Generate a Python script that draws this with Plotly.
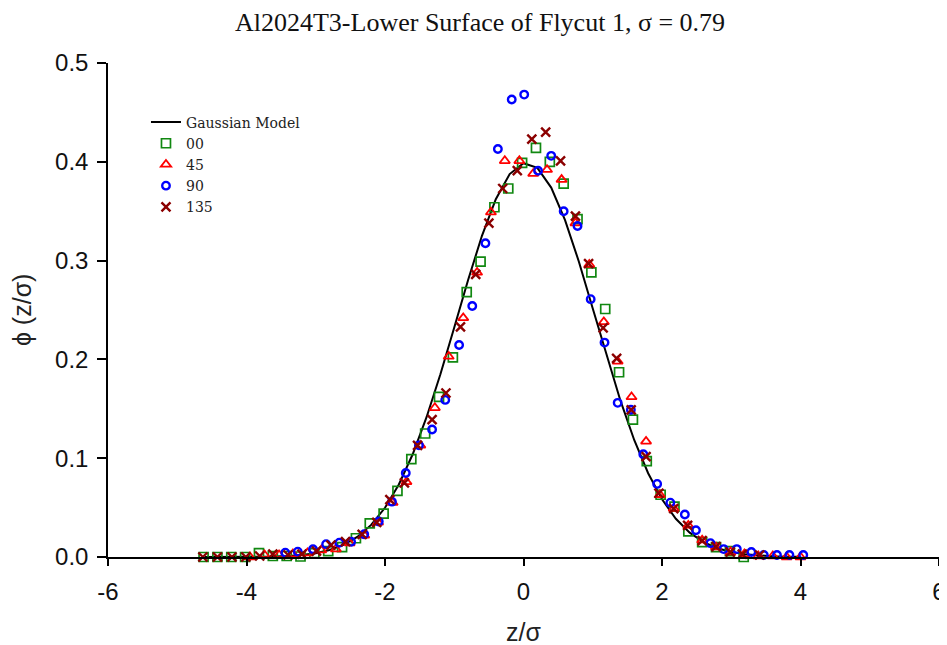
import plotly.graph_objects as go

# Gaussian model curve
model_z = [-4.6, -4.4, -4.2, -4.0, -3.8, -3.6, -3.4, -3.2, -3.0, -2.8, -2.6, -2.4, -2.2, -2.0,
           -1.8, -1.6, -1.4, -1.2, -1.0, -0.8, -0.6, -0.4, -0.2, 0.0, 0.2, 0.4, 0.6, 0.8, 1.0,
           1.2, 1.4, 1.6, 1.8, 2.0, 2.2, 2.4, 2.6, 2.8, 3.0, 3.2, 3.4, 3.6, 3.8, 4.0]
model_phi = [0.0, 0.0, 0.0001, 0.0001, 0.0003, 0.0005, 0.0011, 0.0021, 0.0039, 0.0071, 0.0122,
             0.0203, 0.0325, 0.0498, 0.0734, 0.104, 0.1415, 0.1849, 0.2323, 0.2803, 0.3251,
             0.3621, 0.3876, 0.3986, 0.3939, 0.3739, 0.341, 0.2989, 0.2516, 0.2036, 0.1582,
             0.1182, 0.0848, 0.0584, 0.0387, 0.0246, 0.0151, 0.0089, 0.005, 0.0027, 0.0014,
             0.0007, 0.0003, 0.0002]

# 00
z00 = [-4.62, -4.42, -4.22, -4.02, -3.82, -3.62, -3.42, -3.22, -3.02, -2.82, -2.62, -2.42,
       -2.22, -2.02, -1.82, -1.62, -1.42, -1.22, -1.02, -0.82, -0.62, -0.42, -0.22, -0.02,
       0.18, 0.38, 0.58, 0.78, 0.98, 1.18, 1.38, 1.58, 1.78, 1.98, 2.18, 2.38, 2.58, 2.78,
       2.98, 3.18]
p00 = [0.0, 0.0, 0.0, 0.0, 0.004, 0.001, 0.001, 0.0005, 0.004, 0.006, 0.010, 0.019,
       0.034, 0.044, 0.067, 0.099, 0.125, 0.162, 0.202, 0.268, 0.299, 0.354, 0.373, 0.399,
       0.414, 0.400, 0.378, 0.342, 0.288, 0.251, 0.187, 0.139, 0.097, 0.063, 0.051, 0.026,
       0.015, 0.010, 0.006, 0.0]

# 45
z45 = [-3.95, -3.74, -3.53, -3.33, -3.12, -2.92, -2.71, -2.51, -2.30, -2.10, -1.89, -1.69,
       -1.49, -1.28, -1.08, -0.87, -0.67, -0.47, -0.27, -0.06, 0.14, 0.34, 0.55, 0.75, 0.95,
       1.16, 1.36, 1.56, 1.77, 1.97, 2.17, 2.38, 2.58, 2.78, 2.99, 3.19, 3.39, 3.60, 3.80, 4.00]
p45 = [0.0, 0.002, 0.002, 0.003, 0.004, 0.007, 0.008, 0.014, 0.022, 0.035, 0.055, 0.076,
       0.113, 0.151, 0.203, 0.242, 0.288, 0.349, 0.401, 0.401, 0.388, 0.392, 0.382, 0.338,
       0.296, 0.238, 0.198, 0.162, 0.117, 0.063, 0.049, 0.032, 0.017, 0.010, 0.005, 0.003,
       0.001, 0.001, 0.0, 0.0]

# 90
z90 = [-3.44, -3.26, -3.04, -2.85, -2.66, -2.49, -2.30, -2.09, -1.90, -1.70, -1.51, -1.32,
       -1.13, -0.93, -0.74, -0.55, -0.37, -0.17, 0.01, 0.21, 0.40, 0.58, 0.78, 0.97, 1.17,
       1.36, 1.55, 1.73, 1.93, 2.12, 2.33, 2.49, 2.70, 2.89, 3.08, 3.29, 3.47, 3.66, 3.84, 4.04]
p90 = [0.0044, 0.0054, 0.0078, 0.013, 0.0145, 0.0155, 0.023, 0.036, 0.056, 0.085, 0.113,
       0.129, 0.159, 0.2146, 0.254, 0.3175, 0.413, 0.463, 0.468, 0.391, 0.406, 0.350, 0.335,
       0.261, 0.217, 0.156, 0.149, 0.104, 0.074, 0.055, 0.043, 0.027, 0.014, 0.008, 0.008,
       0.005, 0.002, 0.002, 0.002, 0.002]

# 135
z135 = [-4.63, -4.42, -4.21, -4.01, -3.81, -3.62, -3.40, -3.20, -2.99, -2.78, -2.57, -2.33,
        -2.12, -1.93, -1.72, -1.53, -1.32, -1.12, -0.91, -0.69, -0.50, -0.30, -0.09, 0.12,
        0.32, 0.535, 0.75, 0.94, 1.15, 1.345, 1.555, 1.77, 1.955, 2.17, 2.37, 2.58, 2.78,
        2.985, 3.16, 3.41]
p135 = [0.0, 0.0, 0.0, 0.0, 0.001, 0.003, 0.002, 0.003, 0.006, 0.012, 0.0155, 0.023,
        0.035, 0.058, 0.075, 0.113, 0.139, 0.166, 0.233, 0.286, 0.338, 0.373, 0.391, 0.423,
        0.430, 0.401, 0.345, 0.297, 0.232, 0.201, 0.149, 0.1015, 0.0645, 0.049, 0.032,
        0.0165, 0.0105, 0.005, 0.003, 0.002]

x_ticks = [-6, -4, -2, 0, 2, 4, 6]
y_ticks = [0.0, 0.1, 0.2, 0.3, 0.4, 0.5]

fig = go.Figure()
fig.add_trace(go.Scatter(x=model_z, y=model_phi, mode="lines", name="Gaussian Model",
                         line=dict(color="black", width=2), cliponaxis=False))
fig.add_trace(go.Scatter(x=z00, y=p00, mode="markers", name="00", cliponaxis=False,
                         marker=dict(symbol="square-open", size=9, color="#118811",
                                     line=dict(width=1.7, color="#118811"))))
fig.add_trace(go.Scatter(x=z45, y=p45, mode="markers", name="45", cliponaxis=False,
                         marker=dict(symbol="triangle-up-open", size=9, color="#ff0000",
                                     line=dict(width=1.8, color="#ff0000"))))
fig.add_trace(go.Scatter(x=z90, y=p90, mode="markers", name="90", cliponaxis=False,
                         marker=dict(symbol="circle-open", size=7.5, color="#0000ff",
                                     line=dict(width=2.4, color="#0000ff"))))
fig.add_trace(go.Scatter(x=z135, y=p135, mode="markers", name="135", cliponaxis=False,
                         marker=dict(symbol="x-thin-open", size=9, color="#8b0000",
                                     line=dict(width=2.4, color="#8b0000"))))

axis_font = dict(family="Liberation Sans", size=25, color="#222")
fig.update_layout(
    width=939, height=637,
    paper_bgcolor="white", plot_bgcolor="white",
    margin=dict(l=100, r=7.5, t=55, b=88),
    title=dict(text="Al2024T3-Lower Surface of Flycut 1, σ = 0.79", x=0.5027, xanchor="center",
               y=0.978, yanchor="middle",
               font=dict(family="Liberation Serif", size=26, color="#111")),
    legend=dict(x=0.0457, y=0.912, xanchor="left", yanchor="top", bgcolor="rgba(0,0,0,0)",
                font=dict(family="DejaVu Serif", size=14, color="#222"),
                itemwidth=30),
    showlegend=True,
    annotations=[
        dict(text="z/σ", xref="paper", yref="paper", x=0.5, y=-0.152, xanchor="center",
             yanchor="middle", showarrow=False, font=axis_font),
        dict(text="ϕ (z/σ)", xref="paper", yref="paper", x=-0.1034, y=0.5, xanchor="center",
             yanchor="middle", showarrow=False, textangle=-90, font=axis_font),
    ],
)
fig.update_xaxes(range=[-6, 6], tickvals=x_ticks, ticktext=[str(v) for v in x_ticks],
                 showgrid=False, zeroline=False, showline=True, linecolor="black", linewidth=1.5,
                 ticks="outside", ticklen=7, tickwidth=1.5, tickcolor="black", automargin=False,
                 tickfont=dict(family="Liberation Sans", size=24, color="#111"),
                 ticklabelstandoff=5)
fig.update_yaxes(range=[0, 0.5], tickvals=y_ticks, ticktext=[f"{v:.1f}" for v in y_ticks],
                 showgrid=False, zeroline=False, showline=True, linecolor="black", linewidth=1.5,
                 ticks="outside", ticklen=9, tickwidth=1.5, tickcolor="black", automargin=False,
                 tickfont=dict(family="Liberation Sans", size=24, color="#111"),
                 ticklabelstandoff=4)

fig.write_html("out.html")
